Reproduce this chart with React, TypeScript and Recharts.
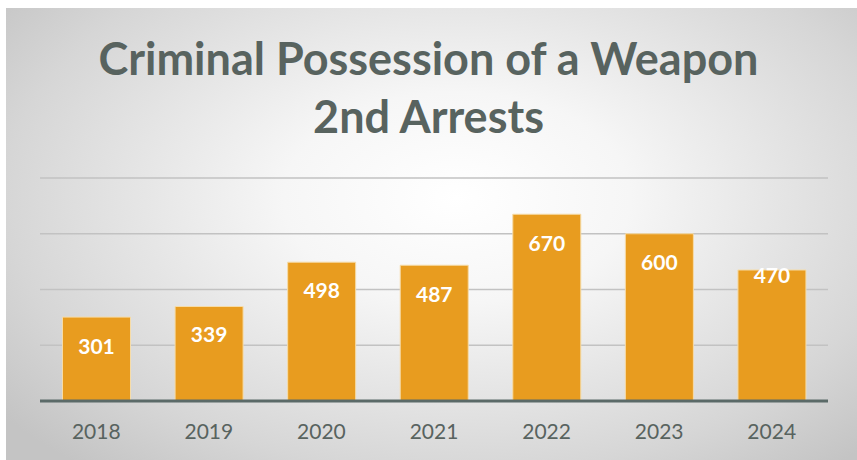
import React from 'react';
import { BarChart, Bar, XAxis, YAxis, CartesianGrid, LabelList } from 'recharts';

const years = ['2018', '2019', '2020', '2021', '2022', '2023', '2024'];
const arrests = [301, 339, 498, 487, 670, 600, 470];
const yTicks = [0, 200, 400, 600, 800];

// label drop below bar top, per bar (the 2024 label sits high in the original)
const labelDrop = [28, 27, 27, 28, 28, 28, 5];

const data = years.map((year, i) => ({ year, value: arrests[i] }));

const font = 'Lato, "Open Sans", sans-serif';
const textColor = '#58635f';

const BarLabel = (props: any) => {
  const { x, y, width, value, index } = props;
  return (
    <text
      x={x + width / 2}
      y={y + labelDrop[index]}
      textAnchor="middle"
      dominantBaseline="central"
      fill="#ffffff"
      fontFamily={font}
      fontWeight={700}
      fontSize={21}
    >
      {value}
    </text>
  );
};

const App: React.FC = () => {
  return (
    <div style={{ position: 'absolute', left: 0, top: 0, width: 857, height: 460, background: '#fff' }}>
      <div
        style={{
          position: 'absolute',
          left: 6,
          top: 8,
          width: 851,
          height: 452,
          background:
            'radial-gradient(ellipse 68% 78% at 53% 42%, #ffffff 0%, #f6f6f6 30%, #d6d6d6 78%, #c4c4c4 100%)',
        }}
      />
      <div
        style={{
          position: 'absolute',
          left: 0,
          top: 29,
          width: 857,
          textAlign: 'center',
          fontFamily: font,
          fontWeight: 700,
          fontSize: 45,
          lineHeight: '58px',
          color: textColor,
        }}
      >
        Criminal Possession of a Weapon
        <br />
        2nd Arrests
      </div>
      <div style={{ position: 'absolute', left: 0, top: 0 }}>
        <BarChart
          width={857}
          height={460}
          data={data}
          margin={{ top: 178, right: 29, left: 40, bottom: 0 }}
          barCategoryGap="20%"
        >
          <CartesianGrid vertical={false} stroke="#c2c2c2" strokeWidth={1.5} />
          <YAxis hide domain={[0, 800]} ticks={yTicks} />
          <XAxis
            dataKey="year"
            height={59}
            axisLine={{ stroke: '#5b6a68', strokeWidth: 3 }}
            tickLine={false}
            tick={{ fill: textColor, fontFamily: font, fontSize: 21 }}
            tickMargin={17}
          />
          <Bar dataKey="value" fill="#e89c1f" stroke="#f6dca8" strokeWidth={1} isAnimationActive={false}>
            <LabelList dataKey="value" content={BarLabel} />
          </Bar>
        </BarChart>
      </div>
    </div>
  );
};

export default App;
